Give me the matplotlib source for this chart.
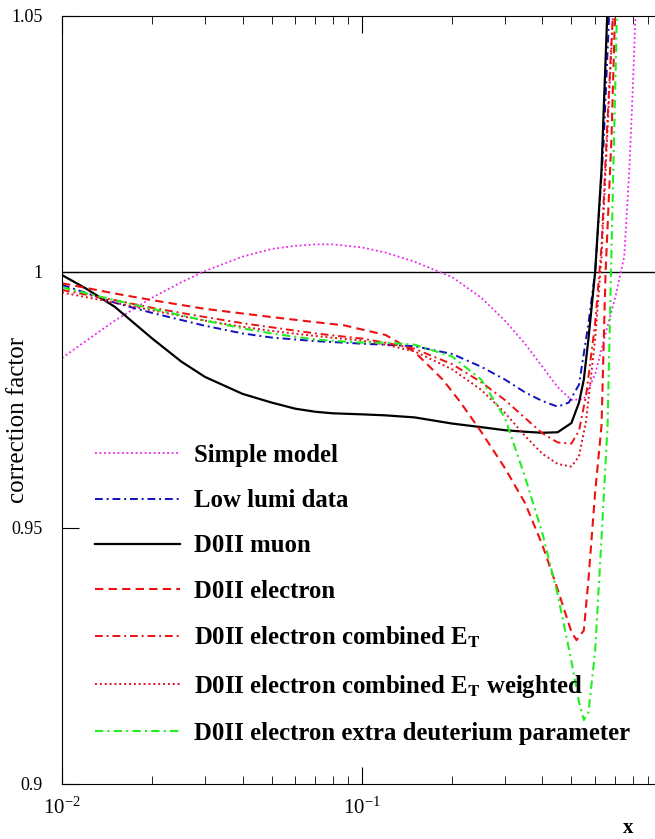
import numpy as np
import matplotlib
matplotlib.use('Agg')
import matplotlib.pyplot as plt

plt.rcParams['font.family'] = ['Liberation Serif', 'DejaVu Serif']
plt.rcParams['mathtext.fontset'] = 'stix'

# curves
x_simple = [0.01, 0.012, 0.015, 0.02, 0.025, 0.03, 0.04, 0.05, 0.06, 0.07, 0.08,
            0.1, 0.12, 0.15, 0.2, 0.25, 0.3, 0.35, 0.4, 0.45, 0.5, 0.55, 0.6,
            0.65, 0.7, 0.75, 0.78, 0.8, 0.82]
y_simple = [0.9832, 0.9865, 0.9905, 0.9950, 0.9980, 1.0002, 1.0030, 1.0045, 1.0051,
            1.0054, 1.0054, 1.0048, 1.0038, 1.0020, 0.9990, 0.9950, 0.9905, 0.9860,
            0.9815, 0.9775, 0.9750, 0.9752, 0.9800, 0.9880, 0.9950, 1.0030, 1.0200,
            1.0350, 1.0520]

x_low = [0.01, 0.015, 0.02, 0.03, 0.04, 0.05, 0.07, 0.1, 0.12, 0.15, 0.2, 0.25,
         0.3, 0.35, 0.4, 0.45, 0.49, 0.53, 0.57, 0.6, 0.64, 0.67]
y_low = [0.9975, 0.9940, 0.9920, 0.9895, 0.9880, 0.9872, 0.9865, 0.9860, 0.9858,
         0.9855, 0.9840, 0.9815, 0.9790, 0.9765, 0.9748, 0.9737, 0.9745, 0.9780,
         0.9900, 1.0000, 1.0250, 1.0520]

x_muon = [0.01, 0.012, 0.015, 0.02, 0.025, 0.03, 0.04, 0.05, 0.06, 0.07, 0.08, 0.1,
          0.12, 0.15, 0.2, 0.25, 0.3, 0.35, 0.4, 0.45, 0.5, 0.53, 0.55, 0.57, 0.6,
          0.63, 0.66]
y_muon = [0.9994, 0.9968, 0.9932, 0.9870, 0.9825, 0.9795, 0.9762, 0.9745, 0.9733,
          0.9727, 0.9724, 0.9722, 0.9720, 0.9716, 0.9704, 0.9697, 0.9691, 0.9688,
          0.9686, 0.9687, 0.9705, 0.9745, 0.9790, 0.9870, 1.0000, 1.0200, 1.0520]

x_ele = [0.01, 0.015, 0.02, 0.03, 0.05, 0.07, 0.087, 0.12, 0.15, 0.186, 0.213, 0.25,
         0.3, 0.35, 0.4, 0.45, 0.5, 0.52, 0.55, 0.57, 0.6, 0.63, 0.65, 0.68, 0.7]
y_ele = [0.9978, 0.9958, 0.9945, 0.9928, 0.9912, 0.9902, 0.9896, 0.9877, 0.9844,
         0.9790, 0.9746, 0.9688, 0.9617, 0.9549, 0.9467, 0.9380, 0.9297, 0.9281,
         0.9300, 0.9400, 0.9570, 0.9700, 1.0000, 1.0260, 1.0520]

x_comb = [0.01, 0.015, 0.02, 0.03, 0.04, 0.05, 0.07, 0.1, 0.12, 0.15, 0.2, 0.25,
          0.3, 0.35, 0.4, 0.45, 0.5, 0.53, 0.56, 0.6, 0.63, 0.66, 0.69]
y_comb = [0.9965, 0.9945, 0.9930, 0.9912, 0.9900, 0.9892, 0.9880, 0.9870, 0.9862,
          0.9850, 0.9820, 0.9785, 0.9750, 0.9715, 0.9685, 0.9667, 0.9665, 0.9690,
          0.9760, 0.9900, 1.0050, 1.0300, 1.0520]

x_weight = [0.01, 0.015, 0.02, 0.03, 0.04, 0.05, 0.07, 0.1, 0.12, 0.15, 0.2, 0.25,
            0.3, 0.35, 0.4, 0.45, 0.5, 0.53, 0.56, 0.6, 0.63, 0.66, 0.69]
y_weight = [0.9960, 0.9940, 0.9925, 0.9905, 0.9893, 0.9885, 0.9875, 0.9866, 0.9858,
            0.9845, 0.9810, 0.9770, 0.9725, 0.9680, 0.9645, 0.9625, 0.9620, 0.9640,
            0.9710, 0.9870, 1.0030, 1.0280, 1.0520]

x_deut = [0.01, 0.015, 0.02, 0.03, 0.04, 0.05, 0.07, 0.1, 0.12, 0.15, 0.2, 0.25,
          0.3, 0.35, 0.4, 0.45, 0.5, 0.53, 0.55, 0.57, 0.6, 0.63, 0.66, 0.68, 0.71]
y_deut = [0.9970, 0.9945, 0.9928, 0.9905, 0.9890, 0.9880, 0.9868, 0.9862, 0.9862,
          0.9858, 0.9835, 0.9790, 0.9715, 0.9600, 0.9490, 0.9370, 0.9240, 0.9160,
          0.9125, 0.9140, 0.9260, 0.9480, 0.9700, 1.0040, 1.0520]

labels = ['Simple model', 'Low lumi data', 'D0II muon', 'D0II electron',
          r'D0II electron combined E$_\mathbf{T}$',
          r'D0II electron combined E$_\mathbf{T}$ weighted',
          'D0II electron extra deuterium parameter']

fig = plt.figure(figsize=(6.55, 8.39), dpi=100, facecolor='white')
ax = fig.add_axes([62/655, 55/839, 593/655, 768/839])

ax.axhline(1.0, color='black', lw=1.0)
ax.plot(x_simple, y_simple, color='#ee22ee', ls=(0, (1, 1.5)), lw=1.3, label=labels[0])
ax.plot(x_low, y_low, color='#1010c0', ls=(0, (4, 2, 1, 2)), lw=1.4, label=labels[1])
ax.plot(x_muon, y_muon, color='black', ls='-', lw=1.6, label=labels[2])
ax.plot(x_ele, y_ele, color='#ee1111', ls=(0, (4, 2.5)), lw=1.5, label=labels[3])
ax.plot(x_comb, y_comb, color='#ee1111', ls=(0, (4, 2, 1, 2)), lw=1.4, label=labels[4])
ax.plot(x_weight, y_weight, color='#dd1122', ls=(0, (1, 1.5)), lw=1.4, label=labels[5])
ax.plot(x_deut, y_deut, color='#22ee22', ls=(0, (4, 2, 1, 2)), lw=1.5, label=labels[6])

ax.set_xscale('log')
ax.set_xlim(0.01, 0.95)
ax.set_ylim(0.9, 1.05)
ax.set_yticks([0.9, 0.95, 1.0, 1.05])
ax.set_yticklabels(['0.9', '0.95', '1', '1.05'])
ax.spines['right'].set_visible(False)
ax.tick_params(axis='both', which='both', direction='in', top=True, labelsize=13)
ax.tick_params(axis='x', which='major', length=12, pad=10, labelsize=15)
ax.tick_params(axis='x', which='minor', length=6)
ax.tick_params(axis='y', which='major', length=12, pad=14)

fig.text(18/655, 1 - 420/839, 'correction factor', rotation=90, fontsize=18,
         ha='center', va='center')
fig.text(628/655, 1 - 828/839, 'x', fontsize=15, fontweight='bold',
         ha='center', va='center')

ax.legend(loc='upper left', bbox_to_anchor=(33/593, 340/768), frameon=False,
          prop={'size': 17.8, 'weight': 'bold'}, handlelength=3.45,
          handletextpad=0.55, labelspacing=0.9, borderaxespad=0, borderpad=0)

fig.savefig('out.png', dpi=100)
